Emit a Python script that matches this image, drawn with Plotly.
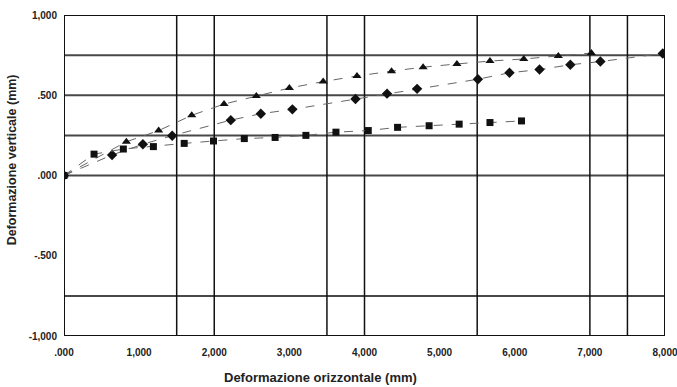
import plotly.graph_objects as go

# Series (mm)
tri_x = [0.0, 0.83, 1.26, 1.70, 2.13, 2.56, 3.00, 3.45, 3.90, 4.36, 4.78, 5.23, 5.67, 6.12, 6.58, 7.02]
tri_y = [0.0, 0.21, 0.28, 0.375, 0.445, 0.495, 0.545, 0.585, 0.62, 0.65, 0.675, 0.695, 0.713, 0.726, 0.745, 0.763]

dia_x = [0.0, 0.64, 1.05, 1.44, 2.22, 2.62, 3.04, 3.88, 4.30, 4.70, 5.51, 5.93, 6.33, 6.74, 7.14, 7.97]
dia_y = [0.0, 0.128, 0.195, 0.248, 0.345, 0.385, 0.412, 0.477, 0.51, 0.54, 0.60, 0.64, 0.66, 0.69, 0.71, 0.76]

sq_x = [0.0, 0.40, 0.79, 1.19, 1.60, 1.99, 2.40, 2.81, 3.22, 3.62, 4.05, 4.44, 4.86, 5.26, 5.67, 6.09]
sq_y = [0.0, 0.133, 0.165, 0.18, 0.20, 0.215, 0.23, 0.237, 0.25, 0.27, 0.28, 0.30, 0.31, 0.32, 0.33, 0.34]

x_ticks = [0, 1, 2, 3, 4, 5, 6, 7, 8]
x_tick_text = [".000", "1,000", "2,000", "3,000", "4,000", "5,000", "6,000", "7,000", "8,000"]
y_ticks = [1, 0.5, 0, -0.5, -1]
y_tick_text = ["1,000", ".500", ".000", "-.500", "-1,000"]

h_grid = [0.75, 0.5, 0.25, 0.0, -0.75]
v_grid = [1.5, 2.0, 3.5, 4.0, 5.5, 7.0, 7.5]

fig = go.Figure()

line_style = dict(color="#666666", width=1, dash="dash")
fig.add_trace(go.Scatter(x=tri_x, y=tri_y, mode="lines+markers", line=line_style,
                         marker=dict(symbol="triangle-up", size=8, color="#111111"), name="A"))
fig.add_trace(go.Scatter(x=dia_x, y=dia_y, mode="lines+markers", line=line_style,
                         marker=dict(symbol="diamond", size=8, color="#111111"), name="B"))
fig.add_trace(go.Scatter(x=sq_x, y=sq_y, mode="lines+markers", line=line_style,
                         marker=dict(symbol="square", size=7, color="#111111"), name="C"))

shapes = []
for v in h_grid:
    shapes.append(dict(type="line", xref="x", yref="y", x0=0, x1=8, y0=v, y1=v,
                       line=dict(color="#484848", width=2), layer="below"))
for v in v_grid:
    shapes.append(dict(type="line", xref="x", yref="y", x0=v, x1=v, y0=-1, y1=1,
                       line=dict(color="#111111", width=1.5), layer="below"))
shapes.append(dict(type="rect", xref="x", yref="y", x0=0, x1=8, y0=-1, y1=1,
                   line=dict(color="#111111", width=2)))

tick_font = dict(size=10, family="Liberation Sans, Arial", weight="bold", color="#222222")

fig.update_layout(
    width=677, height=387,
    margin=dict(l=64, r=12, t=15, b=51),
    paper_bgcolor="white", plot_bgcolor="white",
    showlegend=False,
    shapes=shapes,
    font=dict(family="Liberation Sans, Arial", color="#222222"),
    xaxis=dict(range=[0, 8], tickvals=x_ticks, ticktext=x_tick_text, showgrid=False,
               zeroline=False, showline=False, ticks="", ticklabelstandoff=9,
               ticklabeloverflow="allow", automargin=False,
               tickfont=tick_font),
    yaxis=dict(range=[-1, 1], tickvals=y_ticks, ticktext=y_tick_text, showgrid=False,
               zeroline=False, showline=False, ticks="", ticklabelstandoff=6,
               ticklabeloverflow="allow", automargin=False,
               tickfont=tick_font),
    annotations=[
        dict(text="<b>Deformazione orizzontale (mm)</b>", xref="paper", yref="paper",
             x=(320 - 64) / 601, y=-0.13, showarrow=False, xanchor="center", yanchor="middle",
             font=dict(size=13, color="#222222")),
        dict(text="<b>Deformazione verticale (mm)</b>", xref="paper", yref="paper",
             x=-0.085, y=0.55, showarrow=False, textangle=-90, xanchor="center", yanchor="middle",
             font=dict(size=12.5, color="#222222")),
    ],
)

fig.write_html("out.html")
